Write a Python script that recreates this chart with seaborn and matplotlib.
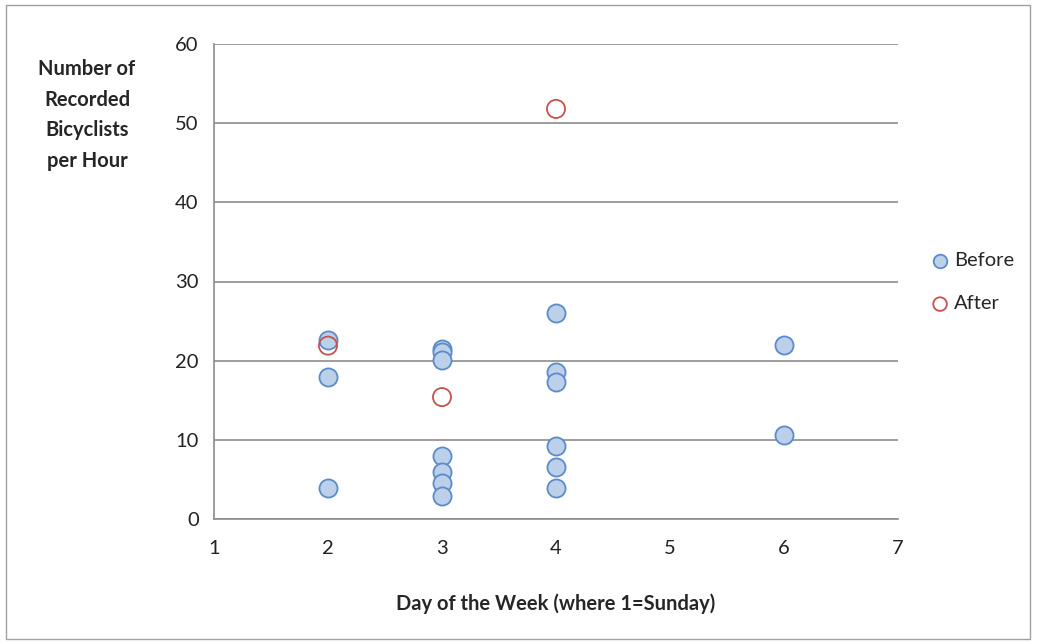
"""Bicyclist counts per hour by day of week, before and after."""

import matplotlib.pyplot as plt
import pandas as pd
import seaborn as sns
from matplotlib.patches import Rectangle

# Data.
before_day = [2, 2, 2, 3, 3, 3, 3, 3, 3, 3, 4, 4, 4, 4, 4, 4, 6, 6]
before_count = [22.6, 17.9, 3.9, 21.5, 21.1, 20.1, 8.0, 5.9, 4.5, 2.9,
                26.0, 18.6, 17.3, 9.2, 6.6, 3.9, 22.0, 10.6]
after_day = [2, 3, 4]
after_count = [21.9, 15.4, 51.8]

x_ticks = [1, 2, 3, 4, 5, 6, 7]
y_ticks = [0, 10, 20, 30, 40, 50, 60]

data = pd.DataFrame({
    "day": before_day + after_day,
    "count": before_count + after_count,
    "period": ["Before"] * len(before_day) + ["After"] * len(after_day),
})

sns.set_style("white")
plt.rcParams["font.family"] = ["Lato", "DejaVu Sans"]

fig = plt.figure(figsize=(10.39, 6.43), dpi=100)
ax = fig.add_axes([214 / 1039, 1 - 519 / 643, 684 / 1039, 475 / 643])

# Before: filled blue circles.
sns.scatterplot(
    data=data[data["period"] == "Before"], x="day", y="count",
    s=170, color="#BCD0EA", edgecolor="#5B8BCB", linewidth=1.3,
    label="Before", ax=ax, zorder=3,
)
# After: hollow red circles.
sns.scatterplot(
    data=data[data["period"] == "After"], x="day", y="count",
    s=170, facecolor="none", edgecolor="#C9504D", linewidth=1.3,
    label="After", ax=ax, zorder=4,
)

ax.set_xlim(1, 7)
ax.set_ylim(0, 60)
ax.set_xticks(x_ticks)
ax.set_yticks(y_ticks)
ax.yaxis.grid(True, color="#8C8C8C", linewidth=1.2)
ax.set_axisbelow(True)
for side in ["top", "right"]:
    ax.spines[side].set_visible(False)
for side in ["left", "bottom"]:
    ax.spines[side].set_color("#8C8C8C")
    ax.spines[side].set_linewidth(1.2)
ax.tick_params(axis="both", direction="out", length=5, width=1.2,
               color="#8C8C8C", labelsize=14.5, labelcolor="#222222", pad=6)
ax.tick_params(axis="x", pad=10)

ax.set_xlabel("Day of the Week (where 1=Sunday)", fontsize=14.5,
              fontweight="bold", labelpad=26)
ax.set_ylabel("")
fig.text(87 / 1039, 1 - 115 / 643, "Number of\nRecorded\nBicyclists\nper Hour",
         ha="center", va="center", fontsize=14.5, fontweight="bold",
         linespacing=1.65)

leg = ax.legend(loc="upper left", bbox_to_anchor=(932 / 1039, 1 - 252 / 643),
                bbox_transform=fig.transFigure, frameon=False,
                fontsize=14.5, handlelength=0.8, handletextpad=0.3,
                labelspacing=1.3, borderpad=0, borderaxespad=0,
                markerscale=0.75)

# Light outer frame around the chart area.
fig.patches.append(Rectangle((6 / 1039, 4 / 643), 1024 / 1039, 634 / 643,
                             transform=fig.transFigure, fill=False,
                             edgecolor="#A0A0A0", linewidth=1.0))

plt.savefig("out.png", dpi=100)
